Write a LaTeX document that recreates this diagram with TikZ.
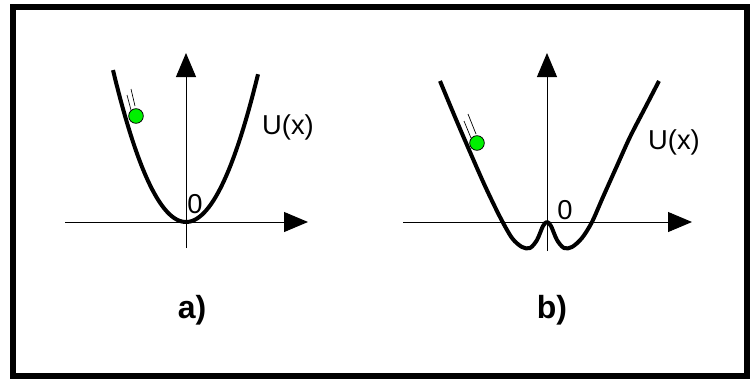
\documentclass[tikz,border=0pt]{standalone}
\usepackage{fontspec}
\setmainfont{Liberation Sans}
\usetikzlibrary{arrows.meta}
\definecolor{ballgreen}{RGB}{0,240,0}

\tikzset{
  axis/.style={line width=0.75pt, -{Triangle[length=18pt,width=15pt]}},
  potcurve/.style={line width=3pt, line join=round},
  ball/.style={circle, draw, line width=0.6pt, fill=ballgreen, inner sep=0pt, minimum size=11pt},
  trail/.style={line width=0.5pt},
  lbl/.style={inner sep=0pt, font=\fontsize{20.5}{23}\selectfont},
  caption/.style={inner sep=0pt, font=\fontsize{24}{27}\selectfont\bfseries}
}

\begin{document}
\begin{tikzpicture}[x=0.75pt, y=-0.75pt]
\useasboundingbox (0,0) rectangle (751,379);
% outer
\fill[white] (0,0) rectangle (751,379);
\draw[line width=4.5pt] (13,7) rectangle (747,376);

% panel a: axes
\draw[axis] (65,222) -- (308,222);
\draw[axis] (186,248) -- (186,53);
% panel a: parabola
\draw[potcurve] plot[domain=-73:72, samples=60] ({186+\x}, {222-0.0285*\x*\x});
% panel a: ball
\draw[trail] (127,95) -- (131,110);
\draw[trail] (131,89) -- (135,106);
\node[ball] (balla) at (136,116) {};
\node[lbl] (ua) at (288,127) {U(x)};
\node[lbl] (za) at (195,204) {0};
\node[caption] (capa) at (192,310) {a)};

% panel b: axes
\draw[axis] (403,222) -- (692,222);
\draw[axis] (547,251) -- (547,53);
% panel b: double well
\draw[potcurve] plot[smooth, tension=0.5] coordinates {
  (440,81) (455,117) (470,152) (485,186) (500,217) (512,238) (522,247)
  (530,248) (537,240) (543,226) (547,222) (551,226) (557,240) (564,248)
  (572,247) (582,238) (592,222) (603,197) (616,168) (630,137) (645,108) (659,81)};
% panel b: ball
\draw[trail] (464,121) -- (471,138);
\draw[trail] (468,114) -- (476,134);
\node[ball] (ballb) at (477,143) {};
\node[lbl] (ub) at (674,142) {U(x)};
\node[lbl] (zb) at (565,210) {0};
\node[caption] (capb) at (552,310) {b)};
\end{tikzpicture}
\end{document}
